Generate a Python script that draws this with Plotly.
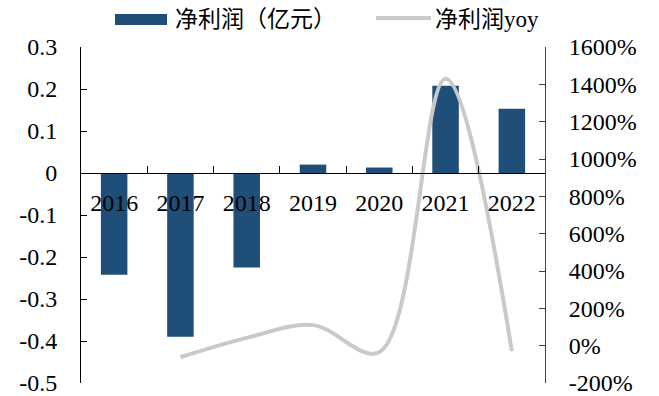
import plotly.graph_objects as go

# Annual net profit (100 million CNY) and its year-over-year change (%)
years = ["2016", "2017", "2018", "2019", "2020", "2021", "2022"]
net_profit = [-0.242, -0.39, -0.225, 0.02, 0.013, 0.208, 0.153]
yoy_years = ["2017", "2018", "2019", "2020", "2021", "2022"]
yoy_pct = [-62, 42, 110, -35, 1430, -30]

left_tickvals = [0.3, 0.2, 0.1, 0, -0.1, -0.2, -0.3, -0.4, -0.5]
left_ticktext = ["0.3", "0.2", "0.1", "0", "-0.1", "-0.2", "-0.3", "-0.4", "-0.5"]
right_tickvals = [1600, 1400, 1200, 1000, 800, 600, 400, 200, 0, -200]
right_ticktext = ["1600%", "1400%", "1200%", "1000%", "800%", "600%",
                  "400%", "200%", "0%", "-200%"]

bar_name = "净利润（亿元）"
line_name = "净利润yoy"

BAR_COLOR = "#1f4e79"
LINE_COLOR = "#c9c9c9"
SERIF = "Liberation Serif"
CJK_FONT = "Liberation Serif, Noto Sans CJK SC"

W, H = 659, 396
L, R, T, B = 81, 114, 47, 13
pw, ph = W - L - R, H - T - B


def px_x(x):
    return (x - L) / pw


def px_y(y):
    return (H - B - y) / ph


fig = go.Figure()
fig.add_trace(go.Bar(
    x=years, y=net_profit, name=bar_name,
    marker=dict(color=BAR_COLOR, line=dict(width=0)),
    yaxis="y", showlegend=False,
))
fig.add_trace(go.Scatter(
    x=yoy_years, y=yoy_pct, name=line_name, mode="lines",
    line=dict(color=LINE_COLOR, width=4, shape="spline", smoothing=1.0),
    yaxis="y2", showlegend=False,
))

y_lo, y_hi = -0.5, 0.3
zero_pos = (0 - y_lo) / (y_hi - y_lo)

fig.update_layout(
    width=W, height=H,
    margin=dict(l=L, r=R, t=T, b=B, pad=0, autoexpand=False),
    paper_bgcolor="white", plot_bgcolor="white",
    bargap=0.6,
    font=dict(family=SERIF, size=24, color="#000000"),
    xaxis=dict(
        type="category", categoryorder="array", categoryarray=years,
        anchor="free", position=zero_pos, automargin=False,
        showline=True, linecolor="#000000", linewidth=1.3,
        ticks="inside", tickson="boundaries", ticklen=7,
        tickcolor="#000000", tickwidth=1,
        ticklabelstandoff=8,
        showgrid=False, zeroline=False,
        tickfont=dict(family=SERIF, size=24, color="#000000"),
    ),
    yaxis=dict(
        range=[y_lo, y_hi], tickvals=left_tickvals, ticktext=left_ticktext,
        automargin=False,
        showline=True, linecolor="#000000", linewidth=1,
        ticks="inside", ticklen=6, tickcolor="#000000",
        ticklabelstandoff=18, ticklabeloverflow="allow",
        showgrid=False, zeroline=False,
        tickfont=dict(family=SERIF, size=24, color="#000000"),
    ),
    yaxis2=dict(
        range=[-200, 1600], tickvals=right_tickvals, ticktext=right_ticktext,
        overlaying="y", side="right", automargin=False,
        showline=True, linecolor="#404040", linewidth=1,
        ticks="inside", ticklen=6, tickcolor="#404040",
        ticklabelstandoff=18, ticklabeloverflow="allow",
        showgrid=False, zeroline=False,
        tickfont=dict(family=SERIF, size=24, color="#000000"),
    ),
)

# Legend drawn above the plot area
fig.add_shape(type="rect", xref="paper", yref="paper",
              x0=px_x(115), x1=px_x(167), y0=px_y(25), y1=px_y(14),
              fillcolor=BAR_COLOR, line=dict(width=0))
fig.add_shape(type="line", xref="paper", yref="paper",
              x0=px_x(376), x1=px_x(431), y0=px_y(18), y1=px_y(18),
              line=dict(color=LINE_COLOR, width=4))
fig.add_annotation(xref="paper", yref="paper", x=px_x(173), y=px_y(19),
                   xanchor="left", yanchor="middle", showarrow=False,
                   text=bar_name, font=dict(family=CJK_FONT, size=23))
fig.add_annotation(xref="paper", yref="paper", x=px_x(433), y=px_y(19),
                   xanchor="left", yanchor="middle", showarrow=False,
                   text=line_name, font=dict(family=CJK_FONT, size=23))

fig.write_html("out.html")
